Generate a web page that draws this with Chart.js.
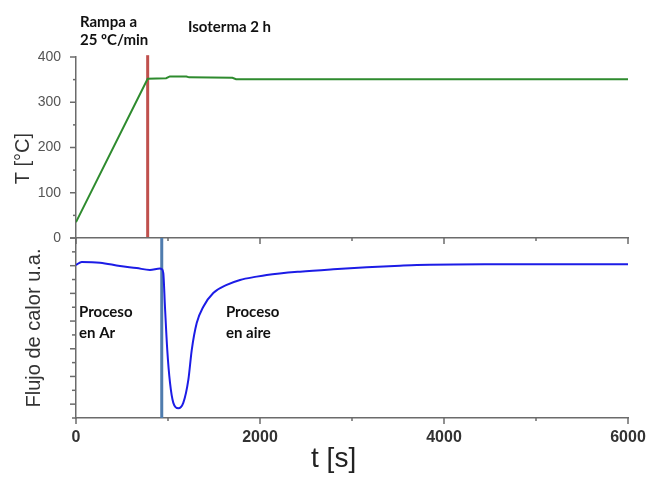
<!DOCTYPE html>
<html>
<head>
<meta charset="utf-8">
<title>Rampa e isoterma</title>
<script src="https://cdn.jsdelivr.net/npm/chart.js@4.4.1/dist/chart.umd.min.js"></script>
<style>
  html, body { margin: 0; padding: 0; background: #fff; }
  #wrap { position: relative; width: 651px; height: 479px; }
  #wrap canvas { position: absolute; left: 0; top: 0; }
</style>
</head>
<body>
<div id="wrap">
  <canvas id="temp" width="651" height="479"></canvas>
  <canvas id="flow" width="651" height="479"></canvas>
</div>
<script>
// Temperature program (s, °C)
const tempTime = [0, 779, 980, 1020, 1200, 1230, 1700, 1740, 6000];
const tempValue = [35, 352, 353, 357, 357, 355, 354, 351, 351];

// Heat flow signal (s, arbitrary units)
const flowTime = [0, 62, 261, 478, 659, 804, 913, 932, 949, 967, 992, 1022, 1058, 1112, 1166,
  1221, 1258, 1312, 1384, 1492, 1638, 1783, 1964, 2073, 2435, 2797, 3160, 3522, 3707, 4575, 6000];
const flowValue = [-1.95, -1.73, -1.78, -2.02, -2.17, -2.31, -2.21, -2.25, -2.53, -4.96, -8.09, -10.47, -11.91, -12.30, -11.91,
  -10.25, -8.09, -6.14, -4.96, -3.97, -3.39, -3.03, -2.79, -2.67, -2.43, -2.26, -2.12, -2.00, -1.95, -1.90, -1.89];

// Event markers (s)
const rampEnd = 779;    // end of 25 ºC/min ramp
const gasSwitch = 932;  // Ar -> aire

// Tick labels
const tempLabels = [0, 100, 200, 300, 400];
const timeLabels = [0, 2000, 4000, 6000];

const AXIS = '#6b6b6b';
Chart.defaults.font.family = "'Liberation Sans', Arial, sans-serif";

const pts = (xs, ys) => xs.map((x, i) => ({ x, y: ys[i] }));

// short/long tick marks drawn along an axis line
function axisTicks(specs) {
  return {
    id: 'axisTicks',
    afterDraw(chart) {
      const ctx = chart.ctx;
      ctx.save();
      ctx.strokeStyle = AXIS;
      ctx.lineWidth = 1.5;
      specs.forEach(s => {
        const scale = chart.scales[s.axis];
        const base = scale[s.line];
        scale.ticks.forEach(t => {
          const p = scale.getPixelForValue(t.value);
          const len = (Math.abs(t.value % s.major) < 1e-6 ? s.long : s.short) * s.dir;
          ctx.beginPath();
          if (scale.isHorizontal()) {
            ctx.moveTo(p, base);
            ctx.lineTo(p, base + len);
          } else {
            ctx.moveTo(base, p);
            ctx.lineTo(base + len, p);
          }
          ctx.stroke();
        });
      });
      ctx.restore();
    }
  };
}

// text notes placed in data coordinates
function notes(items) {
  return {
    id: 'notes',
    afterDatasetsDraw(chart) {
      const { ctx, scales: { x, y } } = chart;
      ctx.save();
      ctx.textBaseline = 'middle';
      items.forEach(n => {
        ctx.font = n.font || "bold 15px Lato, 'Open Sans', sans-serif";
        ctx.fillStyle = n.color || '#111';
        ctx.textAlign = n.align || 'left';
        ctx.fillText(n.text, x.getPixelForValue(n.t), y.getPixelForValue(n.v));
      });
      ctx.restore();
    }
  };
}

// Upper panel: temperature
new Chart(document.getElementById('temp'), {
  type: 'line',
  data: {
    datasets: [
      { data: pts(tempTime, tempValue), borderColor: '#2e8b2e', borderWidth: 2, pointRadius: 0 },
      { data: [{ x: rampEnd, y: 0 }, { x: rampEnd, y: 404 }], borderColor: '#c0504d', borderWidth: 3, pointRadius: 0, clip: false }
    ]
  },
  options: {
    responsive: false,
    animation: false,
    devicePixelRatio: 1,
    layout: { padding: { left: 0, top: 57, right: 23, bottom: 241 } },
    plugins: { legend: { display: false }, tooltip: { enabled: false } },
    scales: {
      x: { type: 'linear', min: 0, max: 6000, display: false },
      y: {
        min: 0, max: 400,
        afterFit: s => { s.width = 76; },
        ticks: { stepSize: 50, padding: 9, color: '#555', font: { size: 14 },
          callback: v => tempLabels.includes(v) ? v : '' },
        grid: { display: false, tickLength: 6 },
        border: { color: AXIS, width: 1.5 },
        title: { display: true, text: 'T [°C]    ', color: '#333', font: { size: 20 }, padding: { top: 11 } }
      }
    }
  },
  plugins: [
    axisTicks([{ axis: 'y', line: 'right', dir: -1, major: 100, long: 6, short: 3 }]),
    notes([
      { text: 'Rampa a', t: 43, v: 477 },
      { text: '25 ºC/min', t: 43, v: 437 },
      { text: 'Isoterma 2 h', t: 1217, v: 466 }
    ])
  ]
});

// Lower panel: heat flow
new Chart(document.getElementById('flow'), {
  type: 'line',
  data: {
    datasets: [
      { data: pts(flowTime, flowValue), xAxisID: 'x', yAxisID: 'y', borderColor: '#1c1ce6', borderWidth: 2,
        pointRadius: 0, cubicInterpolationMode: 'monotone' },
      { data: [{ x: gasSwitch, y: 0 }, { x: gasSwitch, y: -13 }], xAxisID: 'x', yAxisID: 'y',
        borderColor: '#4f7cae', borderWidth: 3, pointRadius: 0 }
    ]
  },
  options: {
    responsive: false,
    animation: false,
    devicePixelRatio: 1,
    layout: { padding: { left: 0, top: 238, right: 23, bottom: 21 } },
    plugins: { legend: { display: false }, tooltip: { enabled: false } },
    scales: {
      x: {
        type: 'linear', position: 'bottom', min: 0, max: 6000,
        afterFit: s => { s.height = 40; },
        ticks: { stepSize: 1000, autoSkip: false, maxRotation: 0, padding: 4, color: '#333',
          font: { size: 16, weight: 'bold' }, callback: v => timeLabels.includes(v) ? v : '' },
        grid: { display: false, tickLength: 6 },
        border: { color: AXIS, width: 1.5 }
      },
      xTop: {
        type: 'linear', position: 'top', min: 0, max: 6000,
        afterFit: s => { s.height = 0; },
        ticks: { display: false, stepSize: 1000, autoSkip: false },
        grid: { display: false, drawTicks: false },
        border: { color: AXIS, width: 1.5 }
      },
      y: {
        min: -13, max: 0,
        afterFit: s => { s.width = 76; },
        ticks: { display: false, stepSize: 1 },
        grid: { display: false, tickLength: 6 },
        border: { color: AXIS, width: 1.5 },
        title: { display: true, text: 'Flujo de calor u.a.', color: '#333', font: { size: 20 }, padding: { top: 22 } }
      }
    }
  },
  plugins: [
    axisTicks([
      { axis: 'x', line: 'top', dir: 1, major: 2000, long: 6, short: 3 },
      { axis: 'xTop', line: 'bottom', dir: 1, major: 2000, long: 6, short: 3 },
      { axis: 'y', line: 'right', dir: -1, major: 2, long: 6, short: 4 }
    ]),
    notes([
      { text: 'Proceso', t: 33, v: -5.38 },
      { text: 'en Ar', t: 33, v: -6.86 },
      { text: 'Proceso', t: 1630, v: -5.38 },
      { text: 'en aire', t: 1630, v: -6.86 },
      { text: 't [s]', t: 2800, v: -16.0, align: 'center', color: '#222', font: "28px 'Liberation Sans', Arial, sans-serif" }
    ])
  ]
});
</script>
</body>
</html>
